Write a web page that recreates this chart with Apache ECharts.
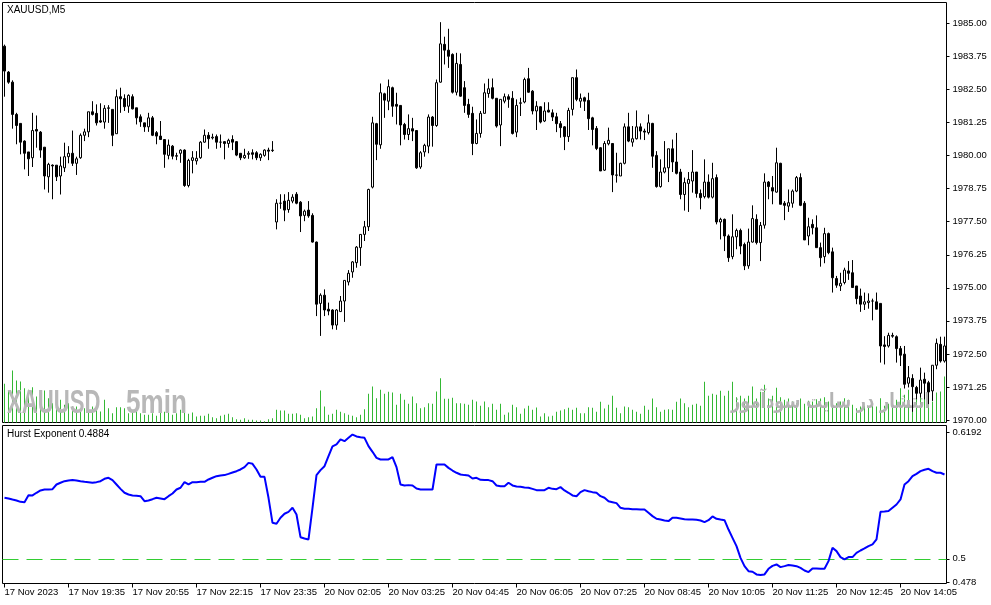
<!DOCTYPE html>
<html><head><meta charset="utf-8">
<script src="https://cdn.jsdelivr.net/npm/echarts@6/dist/echarts.min.js"></script>
<style>html,body{margin:0;padding:0;background:#fff}#c{width:991px;height:605px}</style>
</head><body><div id="c"></div>
<script>
const tickLabels = ["17 Nov 2023","17 Nov 19:35","17 Nov 20:55","17 Nov 22:15","17 Nov 23:35","20 Nov 02:05","20 Nov 03:25","20 Nov 04:45","20 Nov 06:05","20 Nov 07:25","20 Nov 08:45","20 Nov 10:05","20 Nov 11:25","20 Nov 12:45","20 Nov 14:05"];
const priceTicks = [1970.00,1971.25,1972.50,1973.75,1975.00,1976.25,1977.50,1978.75,1980.00,1981.25,1982.50,1983.75,1985.00];
const hurstTicks = [0.478,0.5,0.6192];
const hurstLevel = 0.5;
const titleText = "XAUUSD,M5";
const indicatorText = "Hurst Exponent 0.4884";

// [open, high, low, close]
const ohlc = [
[1984.14,1984.20,1982.23,1983.20],[1983.16,1983.20,1982.72,1982.78],[1982.78,1982.85,1981.02,1981.56],[1981.56,1981.62,1980.43,1981.14],[1981.22,1981.22,1980.05,1980.51],
[1980.55,1980.58,1979.48,1980.09],[1980.14,1980.14,1979.23,1979.88],[1979.92,1981.62,1979.57,1980.95],[1980.99,1981.52,1980.30,1980.93],[1980.89,1980.93,1979.92,1980.21],
[1980.32,1980.32,1978.72,1979.23],[1979.20,1979.73,1978.60,1979.67],[1979.64,1979.67,1978.35,1979.61],[1979.64,1979.64,1979.04,1979.20],[1979.23,1979.96,1978.53,1979.61],
[1979.54,1980.49,1979.38,1979.96],[1979.96,1980.36,1979.71,1980.09],[1980.09,1980.95,1979.61,1979.71],[1979.71,1979.96,1979.27,1979.88],[1979.92,1980.84,1979.88,1980.77],
[1980.77,1981.02,1980.55,1980.90],[1980.90,1981.66,1980.70,1981.66],[1981.66,1982.06,1981.52,1981.56],[1981.60,1981.94,1981.14,1981.24],[1981.32,1981.98,1981.24,1981.27],
[1981.27,1981.91,1981.02,1981.79],[1981.79,1981.91,1981.24,1981.81],[1981.75,1981.75,1980.36,1980.77],[1980.83,1982.50,1980.83,1982.23],[1982.23,1982.57,1981.62,1982.15],
[1982.16,1982.32,1981.69,1981.85],[1981.87,1982.32,1981.62,1982.28],[1982.23,1982.32,1981.75,1981.77],[1981.81,1981.81,1981.18,1981.43],[1981.47,1981.56,1981.09,1981.28],
[1981.24,1981.24,1980.90,1981.09],[1981.09,1981.62,1980.90,1981.43],[1981.43,1981.50,1980.74,1980.77],[1980.87,1980.93,1980.43,1980.74],[1980.74,1981.31,1980.61,1980.61],
[1980.61,1980.61,1979.54,1980.05],[1980.01,1980.61,1979.86,1980.40],[1980.36,1980.40,1979.86,1979.98],[1980.00,1980.11,1979.83,1979.98],[1980.09,1980.24,1979.73,1980.21],
[1980.21,1980.24,1978.82,1978.87],[1978.87,1979.88,1978.80,1979.82],[1979.82,1980.17,1979.33,1979.92],[1979.80,1980.17,1979.66,1979.90],[1979.92,1980.55,1979.88,1980.51],
[1980.51,1980.99,1980.49,1980.77],[1980.77,1980.89,1980.26,1980.64],[1980.67,1980.83,1980.61,1980.70],[1980.72,1980.80,1980.26,1980.51],[1980.51,1980.80,1980.30,1980.51],
[1980.53,1980.55,1979.86,1980.46],[1980.46,1980.64,1980.30,1980.58],[1980.61,1980.77,1980.21,1980.51],[1980.53,1980.55,1979.98,1980.02],[1980.09,1980.09,1979.83,1979.92],
[1979.92,1980.26,1979.88,1980.01],[1980.05,1980.17,1979.88,1980.09],[1980.11,1980.24,1979.86,1980.05],[1980.11,1980.17,1979.83,1979.92],[1979.92,1980.09,1979.80,1980.05],
[1980.01,1980.24,1979.96,1980.21],[1980.21,1980.30,1979.83,1980.17],[1980.19,1980.55,1980.14,1980.21],[1977.49,1978.35,1977.21,1978.20],[1978.20,1978.54,1977.99,1978.20],
[1978.28,1978.54,1977.52,1977.94],[1977.96,1978.62,1977.84,1978.31],[1978.28,1978.54,1978.20,1978.43],[1978.54,1978.62,1978.16,1978.20],[1978.24,1978.28,1977.11,1977.72],
[1977.74,1977.96,1977.52,1977.90],[1977.94,1978.28,1977.65,1977.72],[1977.74,1977.82,1976.71,1976.73],[1976.73,1976.75,1973.93,1974.38],[1974.41,1974.79,1973.18,1974.72],
[1974.72,1974.94,1973.93,1974.16],[1974.19,1974.44,1973.96,1974.12],[1974.16,1974.19,1973.43,1973.59],[1973.59,1974.19,1973.41,1974.16],[1974.10,1974.69,1974.09,1974.50],
[1974.50,1975.28,1973.71,1975.28],[1975.22,1975.67,1975.09,1975.55],[1975.60,1976.01,1975.38,1975.98],[1975.95,1976.58,1975.76,1976.54],[1976.52,1977.02,1975.83,1977.02],
[1977.02,1977.53,1976.77,1977.31],[1977.31,1978.75,1977.15,1978.72],[1978.81,1981.47,1978.76,1981.24],[1981.21,1981.24,1979.83,1980.43],[1980.41,1982.73,1980.26,1982.38],
[1982.34,1982.38,1981.43,1982.10],[1982.06,1982.88,1981.72,1982.61],[1982.57,1982.61,1981.47,1981.87],[1981.94,1982.38,1981.18,1981.87],[1981.90,1981.90,1980.39,1981.16],
[1981.18,1981.24,1980.61,1980.80],[1980.80,1981.56,1980.59,1981.02],[1981.02,1981.43,1980.55,1980.93],[1980.95,1980.95,1979.50,1979.54],[1979.57,1980.17,1979.50,1980.11],
[1980.14,1980.45,1979.96,1980.39],[1980.36,1981.56,1980.09,1981.46],[1981.46,1981.50,1980.34,1981.14],[1981.14,1982.88,1981.09,1982.76],[1982.78,1985.05,1982.76,1984.23],
[1984.21,1984.50,1983.45,1983.99],[1983.99,1984.80,1983.32,1983.76],[1983.83,1983.87,1982.35,1982.40],[1982.40,1983.89,1982.28,1983.49],[1983.45,1983.87,1982.23,1982.25],
[1982.57,1982.82,1981.62,1981.90],[1981.94,1982.15,1981.43,1981.56],[1981.60,1981.85,1980.02,1980.46],[1980.46,1981.37,1980.43,1980.84],[1980.84,1981.69,1980.68,1981.60],
[1981.60,1982.73,1981.60,1982.38],[1982.35,1982.91,1982.19,1982.53],[1982.57,1982.92,1982.13,1982.17],[1982.17,1982.17,1981.06,1981.12],[1981.16,1982.13,1980.36,1982.13],
[1982.06,1982.35,1981.98,1982.23],[1982.23,1982.32,1981.81,1982.13],[1982.17,1982.44,1980.80,1980.84],[1980.89,1982.13,1980.70,1981.90],[1981.98,1982.19,1981.50,1982.00],
[1982.03,1982.95,1981.98,1982.88],[1982.91,1983.32,1982.38,1982.40],[1982.44,1982.48,1981.56,1981.69],[1981.69,1982.06,1980.97,1981.87],[1981.85,1981.87,1981.22,1981.27],
[1981.31,1982.02,1981.27,1981.69],[1981.72,1982.02,1981.64,1981.65],[1981.62,1981.75,1981.31,1981.46],[1981.47,1981.62,1980.89,1981.21],[1981.21,1981.31,1980.68,1981.06],
[1981.09,1981.12,1980.21,1980.72],[1980.72,1981.81,1980.52,1981.71],[1981.75,1982.95,1981.52,1982.95],[1982.95,1983.26,1982.06,1982.13],[1982.06,1982.35,1981.81,1982.17],
[1982.19,1982.23,1981.69,1982.06],[1982.09,1982.38,1980.97,1981.40],[1981.43,1981.47,1980.39,1980.99],[1981.03,1981.12,1980.21,1980.27],[1980.30,1980.32,1979.42,1979.42],
[1979.45,1980.55,1979.42,1980.46],[1980.45,1981.06,1980.39,1980.58],[1980.46,1980.46,1978.62,1979.27],[1979.27,1980.11,1978.98,1979.26],[1979.23,1979.73,1979.23,1979.71],
[1979.71,1981.22,1979.67,1981.09],[1981.09,1981.62,1980.51,1980.55],[1980.51,1981.12,1980.34,1980.64],[1980.64,1981.71,1980.61,1981.09],[1981.09,1981.22,1980.61,1980.93],
[1980.93,1981.02,1980.59,1980.89],[1980.87,1981.56,1980.80,1981.24],[1981.22,1981.24,1979.54,1979.98],[1980.01,1980.17,1978.79,1978.83],[1978.83,1979.86,1978.79,1979.38],
[1979.38,1980.55,1979.33,1979.54],[1979.54,1980.26,1979.00,1980.26],[1980.26,1980.61,1979.38,1979.76],[1979.76,1980.86,1979.29,1979.33],[1979.38,1979.50,1978.35,1978.53],
[1978.53,1979.17,1977.92,1978.98],[1978.95,1979.38,1977.87,1979.10],[1979.04,1980.21,1978.60,1979.38],[1979.38,1979.38,1978.41,1978.57],[1978.57,1978.72,1977.97,1978.41],
[1978.45,1979.86,1978.38,1979.00],[1979.00,1979.29,1978.38,1978.43],[1978.43,1979.73,1978.38,1979.13],[1979.17,1979.29,1977.40,1977.49],[1977.49,1977.65,1976.83,1977.59],
[1977.59,1977.62,1976.39,1976.96],[1976.96,1977.02,1975.98,1976.14],[1976.18,1977.78,1976.08,1976.93],[1976.93,1977.24,1976.46,1977.17],[1977.17,1977.24,1976.27,1976.58],
[1976.64,1976.71,1975.67,1975.83],[1975.83,1977.24,1975.72,1976.73],[1976.73,1978.12,1976.71,1977.62],[1977.59,1977.78,1976.64,1976.71],[1976.71,1977.49,1976.01,1977.36],
[1977.37,1979.33,1977.24,1979.00],[1979.00,1979.04,1978.35,1978.83],[1978.79,1979.23,1978.16,1978.66],[1978.62,1980.30,1978.60,1979.73],[1979.71,1979.73,1978.16,1978.16],
[1978.20,1978.28,1977.56,1978.12],[1978.09,1978.72,1977.87,1978.22],[1978.20,1978.72,1978.03,1978.66],[1978.66,1979.23,1978.62,1979.17],[1979.17,1979.33,1978.09,1978.12],
[1978.20,1978.28,1976.81,1976.81],[1976.96,1977.65,1976.61,1977.31],[1977.40,1977.59,1977.02,1977.27],[1977.27,1977.74,1976.52,1976.52],[1976.52,1976.71,1975.80,1976.14],
[1976.18,1977.27,1975.93,1977.05],[1977.05,1977.09,1976.27,1976.33],[1976.36,1976.52,1974.82,1975.38],[1975.35,1975.45,1975.00,1975.10],[1975.07,1975.57,1974.88,1975.17],
[1975.20,1975.76,1975.13,1975.67],[1975.64,1976.01,1975.30,1975.55],[1975.57,1976.05,1975.01,1975.01],[1975.07,1975.07,1974.38,1974.59],[1974.69,1974.97,1974.09,1974.38],
[1974.38,1974.82,1974.16,1974.47],[1974.44,1974.79,1974.21,1974.50],[1974.50,1974.59,1973.77,1974.50],[1974.47,1974.82,1974.19,1974.19],[1974.41,1974.41,1972.17,1972.80],
[1972.84,1973.17,1972.10,1972.78],[1972.80,1973.30,1972.74,1973.20],[1973.20,1973.30,1973.11,1973.17],[1973.15,1973.20,1972.17,1972.70],[1972.70,1972.80,1972.04,1972.45],
[1972.49,1972.80,1971.19,1971.35],[1971.39,1972.04,1971.23,1971.60],[1971.57,1971.73,1970.31,1971.26],[1971.23,1971.29,1970.78,1971.01],[1971.01,1971.98,1970.85,1971.51],
[1971.54,1971.79,1970.78,1971.39],[1971.41,1971.48,1970.60,1971.06],[1971.10,1972.07,1970.72,1972.07],[1972.07,1973.08,1971.92,1972.90],[1972.86,1973.15,1972.17,1972.23],
[1972.23,1973.15,1972.17,1972.80]
];

const volumes = [
580,480,780,630,615,515,490,530,390,290,
480,365,290,400,340,265,290,240,240,190,
215,315,240,265,165,340,215,140,230,230,
215,140,165,215,140,115,115,140,100,150,
160,170,115,140,190,180,130,150,90,100,
100,130,80,65,100,115,130,80,50,40,
65,40,40,30,30,20,50,65,190,180,
180,130,130,140,115,65,80,90,215,480,
240,115,130,190,160,140,115,100,80,115,
200,430,540,365,490,430,460,450,265,430,
340,280,390,290,215,230,290,280,465,665,
355,355,370,290,290,280,265,340,315,250,
315,230,280,190,280,115,150,265,230,130,
210,250,190,225,90,140,90,100,160,180,
200,220,190,220,140,140,230,220,160,310,
210,265,400,220,140,240,230,190,160,130,
250,190,360,230,160,190,200,190,310,360,
290,230,265,280,250,610,400,430,415,475,
400,475,610,380,400,360,400,540,360,460,
565,360,400,520,380,340,360,315,290,360,
280,325,315,350,360,380,315,340,290,315,
365,340,265,215,240,250,230,280,240,365,
250,280,265,340,515,415,490,440,465,390,
440,450,315,450,465,690
];

const hurst = [
0.5573,0.5567,0.5557,0.5548,0.5535,0.5532,0.5598,0.5595,0.5620,0.5642,
0.5651,0.5651,0.5654,0.5698,0.5714,0.5729,0.5736,0.5739,0.5736,0.5729,
0.5723,0.5720,0.5714,0.5720,0.5729,0.5751,0.5761,0.5739,0.5698,0.5657,
0.5620,0.5604,0.5595,0.5592,0.5588,0.5541,0.5548,0.5560,0.5573,0.5567,
0.5560,0.5588,0.5613,0.5651,0.5667,0.5720,0.5698,0.5720,0.5720,0.5723,
0.5723,0.5745,0.5761,0.5776,0.5783,0.5786,0.5798,0.5811,0.5823,0.5839,
0.5861,0.5901,0.5892,0.5839,0.5770,0.5770,0.5573,0.5338,0.5329,0.5385,
0.5423,0.5441,0.5479,0.5416,0.5203,0.5191,0.5182,0.5479,0.5786,0.5833,
0.5870,0.5964,0.6055,0.6074,0.6121,0.6105,0.6136,0.6167,0.6149,0.6142,
0.6136,0.6058,0.6005,0.5948,0.5933,0.5933,0.5933,0.5955,0.5861,0.5698,
0.5689,0.5692,0.5689,0.5660,0.5651,0.5651,0.5651,0.5651,0.5886,0.5886,
0.5886,0.5854,0.5829,0.5808,0.5792,0.5786,0.5783,0.5754,0.5761,0.5742,
0.5739,0.5739,0.5729,0.5689,0.5682,0.5682,0.5714,0.5689,0.5679,0.5676,
0.5670,0.5667,0.5657,0.5645,0.5645,0.5645,0.5667,0.5657,0.5654,0.5673,
0.5642,0.5620,0.5595,0.5588,0.5626,0.5645,0.5635,0.5626,0.5620,0.5588,
0.5573,0.5541,0.5532,0.5523,0.5479,0.5470,0.5470,0.5466,0.5466,0.5463,
0.5463,0.5432,0.5401,0.5376,0.5369,0.5360,0.5354,0.5385,0.5385,0.5379,
0.5372,0.5369,0.5369,0.5366,0.5360,0.5344,0.5363,0.5398,0.5376,0.5369,
0.5363,0.5275,0.5197,0.5119,0.5009,0.4931,0.4884,0.4878,0.4853,0.4847,
0.4853,0.4906,0.4934,0.4947,0.4922,0.4931,0.4941,0.4937,0.4931,0.4915,
0.4890,0.4875,0.4909,0.4909,0.4906,0.4906,0.4978,0.5103,0.5072,0.5016,
0.4994,0.5016,0.5016,0.5056,0.5078,0.5097,0.5119,0.5135,0.5182,0.5441,
0.5444,0.5448,0.5479,0.5510,0.5557,0.5698,0.5729,0.5776,0.5798,0.5823,
0.5836,0.5845,0.5823,0.5808,0.5808,0.5792
];

const cats = ohlc.map((_, i) => String(i));
const candleData = ohlc.map(r => [r[0], r[3], r[2], r[1]]);
const FONT = "'Liberation Sans', Arial, sans-serif";
const every16 = (i) => i % 16 === 0;

const chart = echarts.init(document.getElementById('c'), null, {renderer: 'canvas'});
chart.setOption({
  animation: false,
  backgroundColor: '#ffffff',
  textStyle: {fontFamily: FONT},
  grid: [
    {left: 2.5, right: 44.5, top: 2.5, height: 420, show: true, borderColor: '#000', borderWidth: 1, backgroundColor: '#fff', containLabel: false, outerBoundsMode: 'none', z: 0},
    {left: 2.5, right: 44.5, top: 425.5, height: 158, show: true, borderColor: '#000', borderWidth: 1, backgroundColor: '#fff', containLabel: false, outerBoundsMode: 'none', z: 0}
  ],
  xAxis: [
    {type: 'category', gridIndex: 0, data: cats, boundaryGap: true, show: false},
    {type: 'category', gridIndex: 1, data: cats, boundaryGap: true,
      axisLine: {show: false},
      axisTick: {show: true, interval: every16, alignWithLabel: true, length: 4, lineStyle: {color: '#000', width: 1}},
      axisLabel: {interval: every16, formatter: (v, i) => tickLabels[i / 16] || '', align: 'left', margin: 4, color: '#000', fontSize: 9.5, fontFamily: FONT},
      splitLine: {show: false}}
  ],
  yAxis: [
    {type: 'value', gridIndex: 0, position: 'right', min: 1969.904, max: 1985.794, scale: true,
      splitLine: {show: false}, axisLine: {show: false},
      axisTick: {show: true, length: 3, customValues: priceTicks, lineStyle: {color: '#000'}},
      axisLabel: {customValues: priceTicks, formatter: v => Number(v).toFixed(2), color: '#000', fontSize: 9.5, margin: 6, fontFamily: FONT}},
    {type: 'value', gridIndex: 0, min: 0, max: 6300, show: false, splitLine: {show: false}},
    {type: 'value', gridIndex: 1, position: 'right', min: 0.4768, max: 0.6252, scale: true,
      splitLine: {show: false}, axisLine: {show: false},
      axisTick: {show: true, length: 3, customValues: hurstTicks, lineStyle: {color: '#000'}},
      axisLabel: {customValues: hurstTicks, formatter: v => String(v), color: '#000', fontSize: 9.5, margin: 6, fontFamily: FONT}}
  ],
  graphic: [
    {type: 'text', x: 7, y: 10, z: 10, silent: true, style: {text: titleText, fill: '#000', font: "10px " + FONT, align: 'left', verticalAlign: 'middle'}},
    {type: 'text', x: 7, y: 434, z: 10, silent: true, style: {text: indicatorText, fill: '#000', font: "10px " + FONT, align: 'left', verticalAlign: 'middle'}},
    {type: 'text', x: 930, y: 403, z: 3, scaleX: 0.77, silent: true, style: {text: 'انتشار در سایت سودآموز', fill: '#b4b4b4', font: "bold 21px 'DejaVu Sans'", align: 'right', verticalAlign: 'middle'}},
    {type: 'text', x: 7, y: 404, z: 3, scaleX: 0.67, silent: true, style: {text: 'XAUUSD', fill: '#b8b8b8', font: "bold 33px " + FONT, align: 'left', verticalAlign: 'middle'}},
    {type: 'text', x: 126, y: 404, z: 3, scaleX: 0.79, silent: true, style: {text: '5min', fill: '#b8b8b8', font: "bold 33px " + FONT, align: 'left', verticalAlign: 'middle'}}
  ],
  series: [
    {name: 'Volume', type: 'bar', xAxisIndex: 0, yAxisIndex: 1, data: volumes, barWidth: 1, z: 2, silent: true,
      itemStyle: {color: '#34b834'}},
    {name: 'XAUUSD', type: 'candlestick', xAxisIndex: 0, yAxisIndex: 0, data: candleData, barWidth: 3, z: 5, silent: true,
      itemStyle: {color: '#ffffff', color0: '#000000', borderColor: '#000000', borderColor0: '#000000', borderWidth: 1}},
    {name: 'Hurst', type: 'line', xAxisIndex: 1, yAxisIndex: 2, data: hurst, showSymbol: false, symbol: 'none', z: 5, silent: true,
      lineStyle: {color: '#0000ff', width: 2},
      markLine: {silent: true, symbol: 'none', label: {show: false}, lineStyle: {color: '#32cd32', type: [16, 8], width: 1},
        data: [{yAxis: hurstLevel}]}}
  ]
});
</script>
</body></html>
